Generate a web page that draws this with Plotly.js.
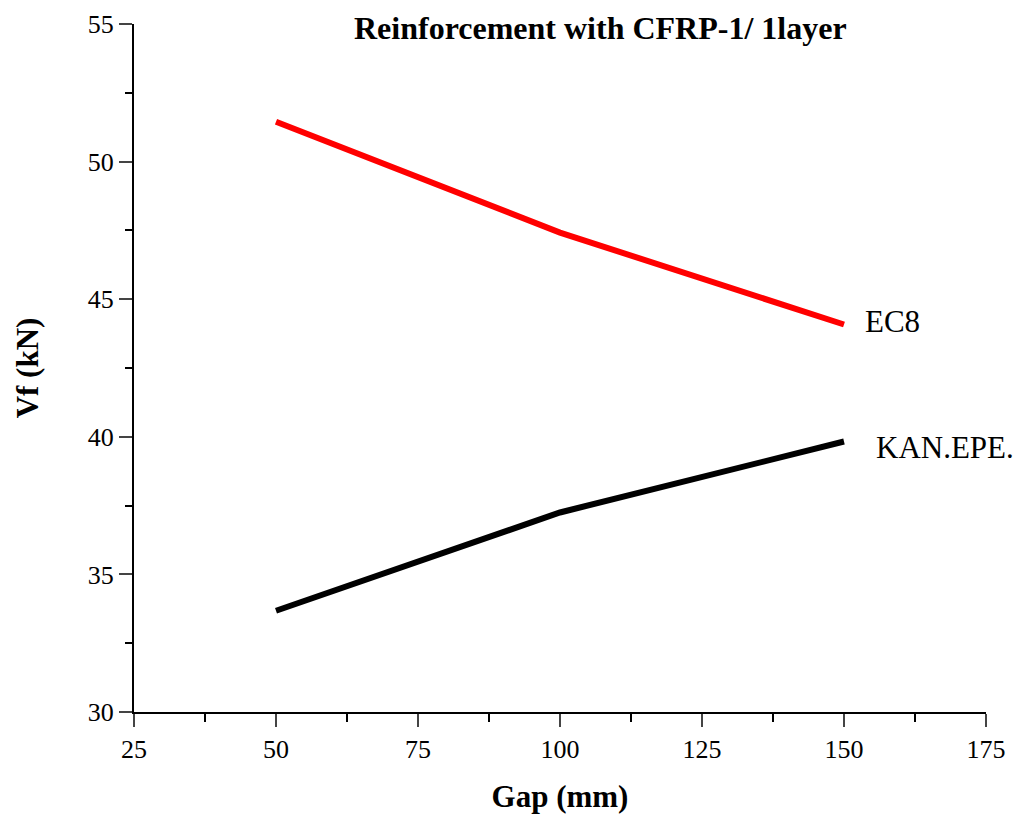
<!DOCTYPE html>
<html><head><meta charset="utf-8">
<script src="https://cdn.plot.ly/plotly-3.0.1.min.js"></script>
<style>body{margin:0;background:#fff}#c{width:1020px;height:814px}</style>
</head><body><div id="c"></div>
<script>
const gap = [50, 100, 150];
const ec8 = [51.45, 47.42, 44.08];
const kanepe = [33.68, 37.25, 39.83];
const seriesNames = ["EC8", "KAN.EPE."];
const F = "Liberation Serif, Times New Roman, serif";

const traces = [
  {x: gap, y: ec8, name: seriesNames[0], mode: "lines", line: {color: "#ff0000", width: 6}},
  {x: gap, y: kanepe, name: seriesNames[1], mode: "lines", line: {color: "#000000", width: 6}}
];
const layout = {
  width: 1020, height: 814,
  margin: {l: 134, r: 34, t: 24, b: 102},
  showlegend: false,
  paper_bgcolor: "#fff", plot_bgcolor: "#fff",
  xaxis: {
    range: [25, 175], tickvals: [25,50,75,100,125,150,175], ticks: "outside", ticklen: 13, tickwidth: 2,
    showline: true, linewidth: 2, linecolor: "#000", showgrid: false, zeroline: false,
    tickfont: {family: F, size: 26, color: "#000"},
    minor: {dtick: 12.5, tick0: 25, ticks: "outside", ticklen: 8, tickwidth: 2, tickcolor: "#000", showgrid: false},
    title: {text: "<b>Gap (mm)</b>", font: {family: F, size: 31, color: "#000"}, standoff: 24}
  },
  yaxis: {
    range: [30, 55], tickvals: [30,35,40,45,50,55], ticks: "outside", ticklen: 13, tickwidth: 2,
    showline: true, linewidth: 2, linecolor: "#000", showgrid: false, zeroline: false,
    tickfont: {family: F, size: 26, color: "#000"},
    minor: {dtick: 2.5, tick0: 30, ticks: "outside", ticklen: 7, tickwidth: 2, tickcolor: "#000", showgrid: false},
    title: {text: "<b>Vf (kN)</b>", font: {family: F, size: 31, color: "#000"}, standoff: 40}
  },
  annotations: [
    {text: "<b>Reinforcement with CFRP-1/ 1layer</b>", xref: "paper", yref: "paper", x: 0.547, y: 1, yanchor: "middle", yshift: -4, showarrow: false, font: {family: F, size: 32, color: "#000"}},
    {text: seriesNames[0], xref: "x", yref: "y", x: gap[2], y: ec8[2], xanchor: "left", xshift: 19, yshift: 3, showarrow: false, font: {family: F, size: 31, color: "#000"}},
    {text: seriesNames[1], xref: "x", yref: "y", x: gap[2], y: kanepe[2], xanchor: "left", xshift: 30, yshift: -6, showarrow: false, font: {family: F, size: 31, color: "#000"}}
  ]
};
Plotly.newPlot("c", traces, layout, {displayModeBar: false});
</script></body></html>
